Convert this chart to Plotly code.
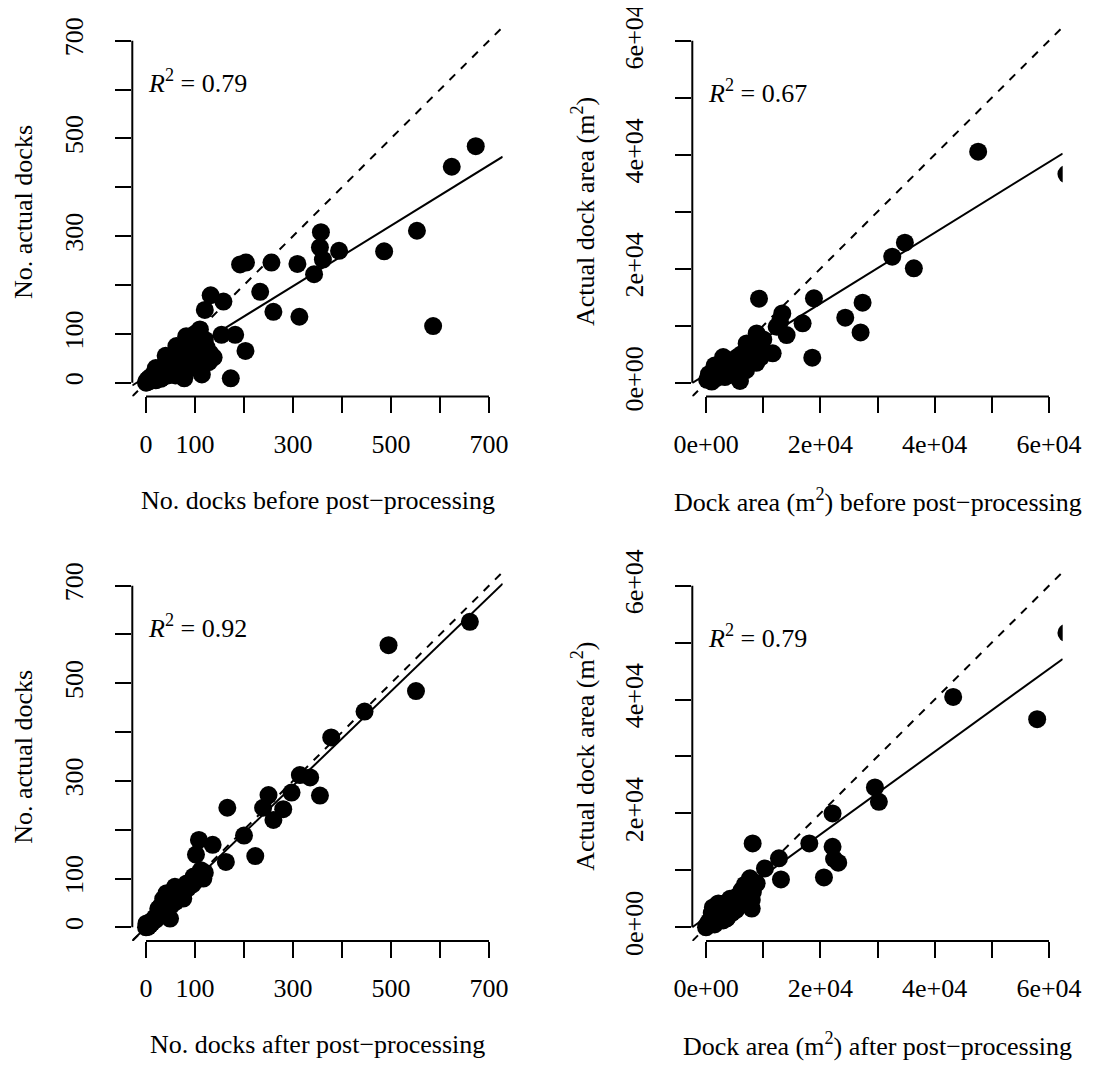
import plotly.graph_objects as go

# ---------------- data ----------------
# Panel 1: number of docks before post-processing vs actual
count_before_x = [673, 624, 553, 586, 486, 394, 357, 355, 361, 343, 309, 256, 192, 204, 233, 260, 313,
                  132, 158, 120, 110, 154, 182, 203, 173, 114, 78,
                  0, 1, 2, 3, 5, 6, 8, 10, 12, 14, 16, 18, 20, 22, 25, 27, 30, 32, 35, 38, 40, 43, 45,
                  48, 50, 53, 55, 58, 60, 63, 66, 68, 70, 73, 76, 80, 83, 86, 90, 94, 98, 102, 106,
                  110, 116, 124, 131, 138, 95, 88,
                  20, 40, 62, 82, 100, 120, 128, 100, 60, 90, 30]
count_before_y = [484, 442, 311, 116, 269, 270, 308, 277, 252, 222, 243, 246, 242, 246, 186, 145, 135,
                  179, 166, 149, 109, 98, 98, 65, 9, 17, 9,
                  0, 3, 1, 6, 2, 9, 4, 12, 7, 16, 10, 20, 5, 14, 24, 18, 28, 10, 33, 22, 40, 30, 15,
                  45, 36, 52, 26, 48, 58, 40, 62, 30, 70, 52, 76, 60, 84, 45, 72, 88, 64, 80, 92,
                  70, 58, 72, 60, 52, 95, 90,
                  30, 55, 75, 95, 100, 88, 42, 40, 15, 30, 8]

# Panel 2: dock area (m2) before post-processing vs actual
area_before_x = [47610, 63050, 34790, 32580, 36360, 27390, 24360, 27040, 18880, 9270, 16900, 18590,
                 13340, 12940, 14100, 12350, 11660, 8860, 7110, 10020, 5940,
                 200, 500, 1000, 1300, 1800, 2200, 2500, 3000, 3300, 3600, 4000, 4400, 4800, 5200,
                 5500, 5800, 6200, 6600, 7000, 7200, 7600, 8000, 8400, 8800, 9200, 9600, 3000, 1500]
area_before_y = [40530, 36610, 24560, 22110, 20060, 14040, 11400, 8830, 14800, 14740, 10410, 4390,
                 12160, 10700, 8360, 9820, 5150, 8650, 6900, 7600, 300,
                 500, 1500, 200, 2000, 800, 3000, 1500, 3500, 1000, 2500, 4000, 2000, 3500, 1200,
                 4500, 2800, 5000, 3500, 2200, 5500, 4200, 6200, 4800, 3500, 5800, 4500, 4500, 3000]

# Panel 3: number of docks after post-processing vs actual
count_after_x = [661, 495, 551, 446, 378, 314, 335, 297, 355, 250, 239, 280, 260, 166, 200, 223, 163,
                 108, 136, 102, 112, 117, 97, 83, 59, 42, 76, 29, 49, 1,
                 0, 2, 4, 6, 8, 10, 12, 15, 18, 20, 23, 26, 30, 33, 36, 40, 44, 48, 52, 55, 60, 64,
                 68, 72, 76, 80, 85, 90, 95, 100, 105, 110, 115, 120, 35, 45, 25, 60, 72]
count_after_y = [626, 578, 484, 442, 389, 312, 307, 276, 270, 271, 245, 242, 220, 245, 188, 146, 134,
                 179, 169, 149, 117, 100, 104, 90, 83, 70, 59, 42, 18, 8,
                 0, 3, 1, 8, 5, 12, 9, 14, 20, 16, 22, 28, 25, 35, 30, 44, 38, 50, 46, 58, 55, 66,
                 62, 75, 70, 84, 80, 92, 88, 102, 98, 108, 105, 112, 58, 65, 38, 52, 64]

# Panel 4: dock area (m2) after post-processing vs actual
area_after_x = [63050, 43240, 57930, 29550, 30240, 22140, 18070, 22140, 23130, 22400, 20630, 8160,
                12760, 10310, 13110, 7690, 8860, 6240, 7690, 5070, 2160, 1860, 3610, 120,
                0, 500, 1000, 1500, 2000, 2200, 2500, 3000, 3200, 3600, 4000, 4200, 4500, 5000,
                5200, 5500, 6000, 6200, 6600, 7000, 7200, 7600, 8000, 8000, 8200, 7800, 6800, 1800, 1200]
area_after_y = [51700, 40470, 36550, 24560, 22050, 20000, 14740, 14150, 11350, 12000, 8770, 14740,
                12110, 10350, 8420, 8600, 7720, 6550, 4800, 4200, 4200, 3040, 1580, 410,
                0, 1000, 2500, 500, 4000, 1800, 3000, 1200, 4200, 1600, 3500, 5000, 2500, 4200,
                3000, 5500, 4000, 6200, 4500, 5500, 7000, 5000, 3300, 4800, 6200, 8000, 7500, 3000, 3500]

# fitted regression lines (intercept, slope) and R^2 labels
fit_intercepts = [11.9, 1460, 0.0, 1760]
fit_slopes = [0.619, 0.621, 0.967, 0.727]
r2_labels = ["0.79", "0.67", "0.92", "0.79"]

# axis ticks
count_ticks = [0, 100, 200, 300, 400, 500, 600, 700]
count_ticktext = ["0", "100", "", "300", "", "500", "", "700"]
area_ticks = [0, 10000, 20000, 30000, 40000, 50000, 60000]
area_ticktext = ["0e+00", "", "2e+04", "", "4e+04", "", "6e+04"]

x_titles = ["No. docks before post\u2212processing",
            "Dock area (m<sup>2</sup>) before post\u2212processing",
            "No. docks after post\u2212processing",
            "Dock area (m<sup>2</sup>) after post\u2212processing"]
y_titles = ["No. actual docks", "Actual dock area (m<sup>2</sup>)",
            "No. actual docks", "Actual dock area (m<sup>2</sup>)"]

# ---------------- figure ----------------
FONT = "Liberation Serif"
FS = 26

panels = [
    (count_before_x, count_before_y, "count"),
    (area_before_x, area_before_y, "area"),
    (count_after_x, count_after_y, "count"),
    (area_after_x, area_after_y, "area"),
]
xdomains = [[0.11310, 0.45014], [0.62266, 0.95969], [0.11310, 0.45014], [0.62266, 0.95969]]
ydomains = [[0.63701, 0.98224], [0.63701, 0.98224], [0.12804, 0.47290], [0.12804, 0.47290]]

count_max = 700
area_max = 60000

fig = go.Figure()
layout = dict(
    width=1099, height=1070,
    margin=dict(l=0, r=0, t=0, b=0),
    paper_bgcolor="white", plot_bgcolor="white",
    showlegend=False,
    font=dict(family=FONT, size=FS, color="black"),
)
annotations = []
shapes = []

for i, (xs, ys, kind) in enumerate(panels):
    n = i + 1
    sx = "" if n == 1 else str(n)
    xa, ya = "x" + sx, "y" + sx
    vmax = count_max if kind == "count" else area_max
    lo, hi = -0.04 * vmax, 1.04 * vmax
    ticks = count_ticks if kind == "count" else area_ticks
    ttext = count_ticktext if kind == "count" else area_ticktext

    fig.add_trace(go.Scatter(x=xs, y=ys, mode="markers", xaxis=xa, yaxis=ya,
                             marker=dict(color="black", size=18, line=dict(width=0)),
                             hoverinfo="skip"))
    # 1:1 line
    fig.add_trace(go.Scatter(x=[lo, hi], y=[lo, hi], mode="lines", xaxis=xa, yaxis=ya,
                             line=dict(color="black", width=2, dash="8px,8px"), hoverinfo="skip"))
    # regression line
    a, b = fit_intercepts[i], fit_slopes[i]
    fig.add_trace(go.Scatter(x=[lo, hi], y=[a + b * lo, a + b * hi], mode="lines", xaxis=xa, yaxis=ya,
                             line=dict(color="black", width=2), hoverinfo="skip"))

    axcommon = dict(range=[lo, hi], showgrid=False, zeroline=False, showline=False,
                    automargin=False, ticklabeloverflow="allow",
                    ticks="outside", ticklen=16, tickwidth=2, tickcolor="black",
                    tickvals=ticks, ticktext=ttext,
                    tickfont=dict(family=FONT, size=FS, color="black"))
    layout["xaxis" + sx] = dict(axcommon, domain=xdomains[i], anchor=ya, ticklabelstandoff=8)
    layout["yaxis" + sx] = dict(axcommon, domain=ydomains[i], anchor=xa, tickangle=-90,
                                ticklabelstandoff=22)

    # axis lines from first to last tick (R style)
    shapes.append(dict(type="line", xref=xa, yref=ya + " domain", x0=ticks[0], x1=ticks[-1],
                       y0=0, y1=0, line=dict(color="black", width=2)))
    shapes.append(dict(type="line", xref=xa + " domain", yref=ya, x0=0, x1=0,
                       y0=ticks[0], y1=ticks[-1], line=dict(color="black", width=2)))

    # R^2 label
    annotations.append(dict(xref=xa, yref=ya, x=0, y=(0.88 if kind == "count" else 0.85) * vmax,
                            xanchor="left", yanchor="middle", showarrow=False,
                            text="<i>R</i><sup>2</sup> = " + r2_labels[i],
                            font=dict(family=FONT, size=FS, color="black")))
    # axis titles
    annotations.append(dict(xref=xa + " domain", yref=ya + " domain", x=0.5, y=0,
                            xanchor="center", yanchor="middle", yshift=-104, showarrow=False,
                            text=x_titles[i], font=dict(family=FONT, size=FS, color="black")))
    annotations.append(dict(xref=xa + " domain", yref=ya + " domain", x=0, y=0.5,
                            xanchor="center", yanchor="middle", xshift=-109, textangle=-90,
                            showarrow=False, text=y_titles[i],
                            font=dict(family=FONT, size=FS, color="black")))

layout["annotations"] = annotations
layout["shapes"] = shapes
fig.update_layout(**layout)
fig.write_html("out.html")
